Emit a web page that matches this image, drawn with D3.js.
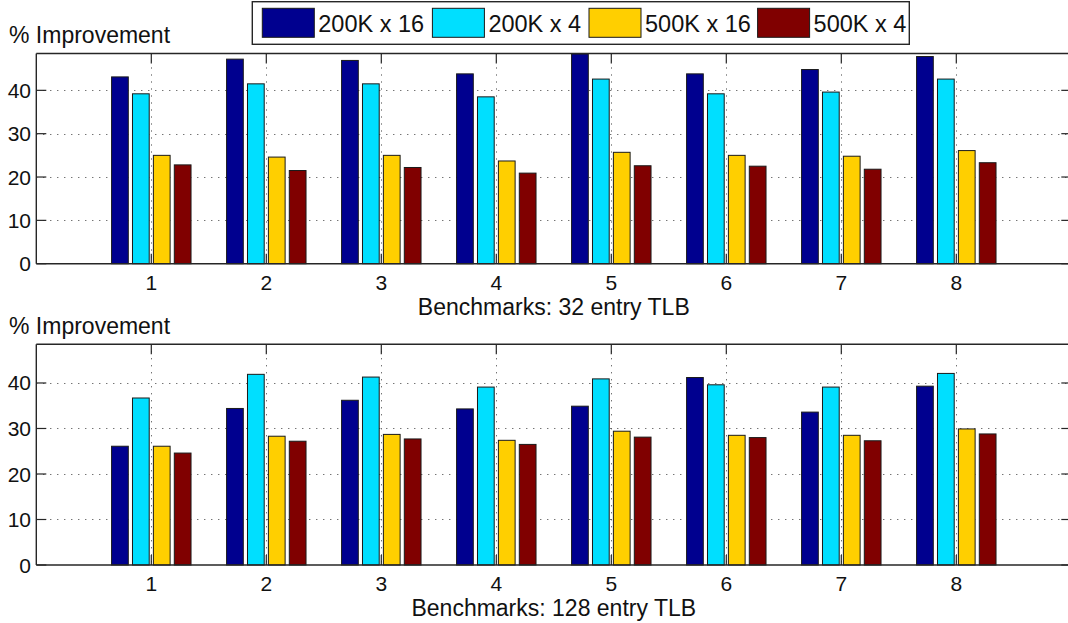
<!DOCTYPE html>
<html>
<head>
<meta charset="utf-8">
<script src="https://cdn.jsdelivr.net/npm/d3@7"></script>
<style>
  html, body { margin: 0; padding: 0; background: #fff; }
  svg { display: block; font-family: "Liberation Sans", Arial, Helvetica, sans-serif; }
</style>
</head>
<body>
<svg id="chart" width="1068" height="623"></svg>
<script>
// Benchmark indices along the x axis
const categories = [1, 2, 3, 4, 5, 6, 7, 8];
const seriesNames = ["200K x 16", "200K x 4", "500K x 16", "500K x 4"];
const seriesColors = ["#00008F", "#00DFFF", "#FFCF00", "#800000"];
const yTicks = [0, 10, 20, 30, 40];

// % improvement, 32 entry TLB
const tlb32_200k16 = [43.1, 47.2, 46.9, 43.8, 48.4, 43.8, 44.8, 47.8];
const tlb32_200k4  = [39.2, 41.5, 41.5, 38.5, 42.6, 39.2, 39.6, 42.6];
const tlb32_500k16 = [25.0, 24.6, 25.0, 23.7, 25.7, 25.0, 24.8, 26.1];
const tlb32_500k4  = [22.8, 21.5, 22.2, 20.9, 22.6, 22.5, 21.8, 23.3];

// % improvement, 128 entry TLB
const tlb128_200k16 = [26.1, 34.4, 36.2, 34.3, 34.9, 41.2, 33.6, 39.3];
const tlb128_200k4  = [36.7, 41.9, 41.3, 39.1, 40.9, 39.6, 39.1, 42.1];
const tlb128_500k16 = [26.1, 28.3, 28.7, 27.4, 29.4, 28.5, 28.5, 29.9];
const tlb128_500k4  = [24.6, 27.2, 27.7, 26.5, 28.1, 28.0, 27.3, 28.8];

const panels = [
  { series: [tlb32_200k16, tlb32_200k4, tlb32_500k16, tlb32_500k4],
    xLabel: "Benchmarks: 32 entry TLB", top: 53.5, bottom: 263.7 },
  { series: [tlb128_200k16, tlb128_200k4, tlb128_500k16, tlb128_500k4],
    xLabel: "Benchmarks: 128 entry TLB", top: 344.3, bottom: 565 }
];

const svg = d3.select("#chart");
const FS = 21;
const TITLE_FS = 23;
const axisColor = "#262626";

// x in data units: categories sit at integers on [0, 9]
const x = d3.scaleLinear().domain([0, 9]).range([36.3, 1071.3]);
const groupWidth = Math.min(0.8, seriesNames.length / (seriesNames.length + 1.5));
const pitch = groupWidth / seriesNames.length;
const barW = pitch * 0.8;

panels.forEach(p => {
  const g = svg.append("g");
  const y = d3.scaleLinear().domain([0, 48.5]).range([p.bottom, p.top]);
  const [x0, x1] = x.range();

  // dotted grid (behind the bars)
  const grid = g.append("g")
    .attr("stroke", "#3a3a3a").attr("stroke-width", 1)
    .attr("stroke-dasharray", "1,6").attr("fill", "none");
  grid.selectAll("line.h").data(yTicks.filter(t => t > 0)).join("line")
    .attr("class", "h")
    .attr("x1", x0).attr("x2", x1)
    .attr("y1", d => Math.round(y(d)) + 0.5).attr("y2", d => Math.round(y(d)) + 0.5);
  grid.selectAll("line.v").data(categories).join("line")
    .attr("class", "v")
    .attr("x1", d => Math.round(x(d)) + 0.5).attr("x2", d => Math.round(x(d)) + 0.5)
    .attr("y1", p.top).attr("y2", p.bottom);

  // grouped bars
  p.series.forEach((vals, si) => {
    const off = (si - (seriesNames.length - 1) / 2) * pitch;
    g.append("g").selectAll("rect").data(vals).join("rect")
      .attr("x", (d, i) => x(categories[i] + off - barW / 2))
      .attr("width", x(barW) - x(0))
      .attr("y", d => y(d))
      .attr("height", d => y(0) - y(d))
      .attr("fill", seriesColors[si])
      .attr("stroke", "#1a1a1a")
      .attr("stroke-width", 1);
  });

  // axes frame
  const frame = g.append("g").attr("stroke", axisColor).attr("stroke-width", 1.4).attr("fill", "none");
  frame.append("line").attr("x1", x0).attr("x2", x1).attr("y1", p.top).attr("y2", p.top);
  frame.append("line").attr("x1", x0).attr("x2", x1).attr("y1", p.bottom).attr("y2", p.bottom);
  frame.append("line").attr("x1", x0).attr("x2", x0).attr("y1", p.top).attr("y2", p.bottom);
  frame.append("line").attr("x1", x1).attr("x2", x1).attr("y1", p.top).attr("y2", p.bottom);

  // inward tick marks
  const tk = g.append("g").attr("stroke", axisColor).attr("stroke-width", 1.2);
  const tl = 10;
  yTicks.forEach(t => {
    tk.append("line").attr("x1", x0).attr("x2", x0 + tl).attr("y1", y(t)).attr("y2", y(t));
    tk.append("line").attr("x1", x1 - tl).attr("x2", x1).attr("y1", y(t)).attr("y2", y(t));
  });
  categories.forEach(c => {
    tk.append("line").attr("x1", x(c)).attr("x2", x(c)).attr("y1", p.top).attr("y2", p.top + tl);
    tk.append("line").attr("x1", x(c)).attr("x2", x(c)).attr("y1", p.bottom).attr("y2", p.bottom - tl);
  });

  // tick labels
  g.append("g").selectAll("text").data(yTicks).join("text")
    .attr("x", 31).attr("y", d => y(d) + 0.358 * FS)
    .attr("text-anchor", "end").attr("font-size", FS).attr("fill", "#111")
    .text(d => d);
  g.append("g").selectAll("text").data(categories).join("text")
    .attr("x", d => x(d)).attr("y", p.bottom + 26)
    .attr("text-anchor", "middle").attr("font-size", FS).attr("fill", "#111")
    .text(d => d);

  // axis titles
  g.append("text")
    .attr("x", (x0 + x1) / 2).attr("y", p.bottom + 51.2)
    .attr("text-anchor", "middle").attr("font-size", TITLE_FS).attr("fill", "#111")
    .text(p.xLabel);
  g.append("text")
    .attr("x", 9).attr("y", p.top - 10.5)
    .attr("font-size", TITLE_FS).attr("fill", "#111")
    .text("% Improvement");
});

// legend
const legendX = [262.3, 432.4, 589.0, 757.6];
const leg = svg.append("g");
leg.append("rect")
  .attr("x", 252.3).attr("y", 1.7).attr("width", 657).attr("height", 42.6)
  .attr("fill", "#fff").attr("stroke", axisColor).attr("stroke-width", 1.4);
seriesNames.forEach((name, i) => {
  leg.append("rect")
    .attr("x", legendX[i]).attr("y", 8.3).attr("width", 52).attr("height", 29)
    .attr("fill", seriesColors[i]).attr("stroke", "#1a1a1a").attr("stroke-width", 1);
  leg.append("text")
    .attr("x", legendX[i] + 56).attr("y", 31.7)
    .attr("font-size", 23.5).attr("fill", "#111")
    .text(name);
});
</script>
</body>
</html>
